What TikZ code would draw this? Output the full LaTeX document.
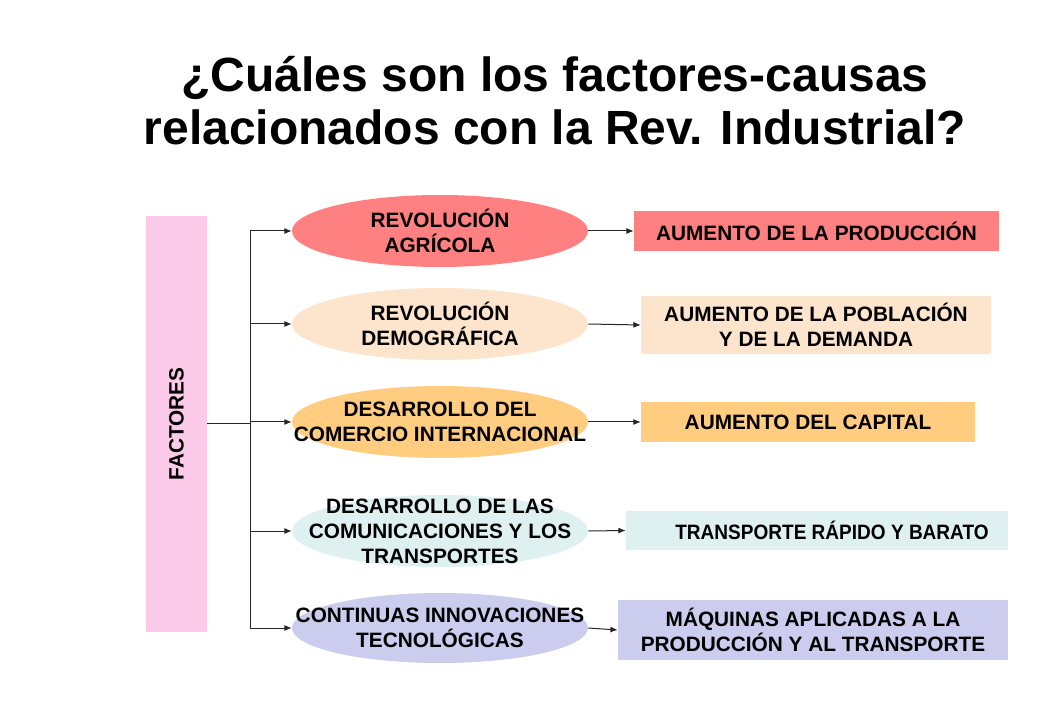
\documentclass[tikz,border=0pt]{standalone}
\usepackage{fontspec}
\setmainfont{Liberation Sans}
\usepackage{xcolor}
\usepackage{graphicx}
\usetikzlibrary{calc, arrows.meta, shapes.geometric}
\definecolor{barpink}{RGB}{250,202,232}
\definecolor{salmon}{RGB}{255,128,128}
\definecolor{peach}{RGB}{253,228,204}
\definecolor{apricot}{RGB}{255,204,128}
\definecolor{paleteal}{RGB}{222,240,240}
\definecolor{lavender}{RGB}{204,204,238}
\tikzset{
  txt/.style={font=\fontsize{15.6}{18.75}\selectfont\bfseries, align=center, inner sep=0pt},
  factor/.style={ellipse, minimum width=222pt, minimum height=54pt, inner sep=0pt},
  effect/.style={rectangle, inner sep=0pt, txt},
  wire/.style={line width=0.75pt, color=black!85},
  conn/.style={wire, -{Latex[length=5.5pt,width=4.5pt]}},
}
\begin{document}
\begin{tikzpicture}[x=0.75pt,y=0.75pt,yscale=-1,xscale=1]
\useasboundingbox (0,0) rectangle (1040,720);
% titulo
\node[txt, font=\fontsize{36}{39.75}\selectfont\bfseries] (title) at (555,101) {¿Cuáles son los factores-causas\\relacionados con la Rev. Industrial?};
\node[fill=barpink, minimum width=45.75pt, minimum height=312pt, inner sep=0pt,
      label={[txt, rotate=90]center:FACTORES}] (bar) at (176.5,424) {};
\node[factor, fill=salmon, label={[txt]center:REVOLUCIÓN\\ AGRÍCOLA}] (e1) at (440,231) {};
\node[factor, fill=peach, label={[txt]center:REVOLUCIÓN\\DEMOGRÁFICA}] (e2) at (440,324) {};
\node[factor, fill=apricot, label={[txt]center:DESARROLLO DEL\\COMERCIO INTERNACIONAL}] (e3) at (440,422) {};
\node[factor, fill=paleteal, label={[txt]center:DESARROLLO DE LAS\\COMUNICACIONES Y LOS\\TRANSPORTES}] (e4) at (440,531) {};
\node[factor, fill=lavender, minimum height=52.5pt, label={[txt]center:CONTINUAS INNOVACIONES\\TECNOLÓGICAS}] (e5) at (440,628) {};
\node[effect, fill=salmon, minimum width=273.75pt, minimum height=30pt] (b1) at (816.5,231) {AUMENTO DE LA PRODUCCIÓN};
\node[effect, fill=peach, minimum width=262.5pt, minimum height=43.5pt] (b2) at (816,325) {AUMENTO DE LA POBLACIÓN\\Y DE LA DEMANDA};
\node[effect, fill=apricot, minimum width=250.5pt, minimum height=30pt] (b3) at (808,422) {AUMENTO DEL CAPITAL};
\node[effect, fill=paleteal, minimum width=286.5pt, minimum height=29.25pt,
      label={[txt, xshift=11.25pt]center:\scalebox{0.915}[1]{TRANSPORTE RÁPIDO Y BARATO}}] (b4) at (817,530.5) {};
\node[effect, fill=lavender, minimum width=292.5pt, minimum height=45pt] (b5) at (813,630) {MÁQUINAS APLICADAS A LA\\PRODUCCIÓN Y AL TRANSPORTE};
\coordinate (spine) at (250,424);
\draw[wire] (bar.east) -- (spine);
\draw[wire] (spine |- e1.west) -- (spine |- e5.west);
\foreach \i in {1,...,5} {
  \draw[conn] (spine |- e\i.west) -- (e\i.west);
  \draw[conn] (e\i.east) -- (b\i.west);
}
\end{tikzpicture}
\end{document}
